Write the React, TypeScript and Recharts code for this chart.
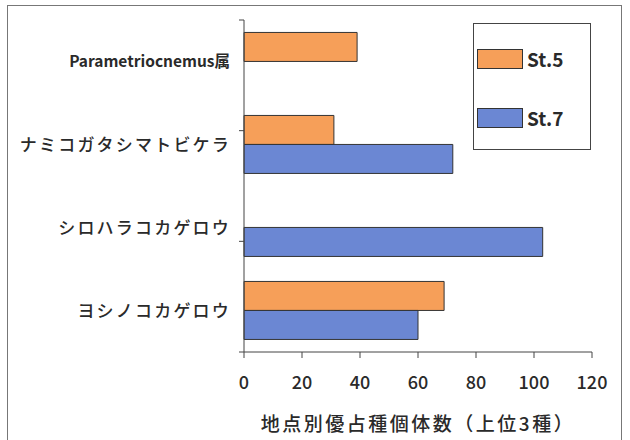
import React from 'react';
import { BarChart, Bar, XAxis, YAxis, Legend } from 'recharts';

// 種名（上から順）
const species = ['Parametriocnemus属', 'ナミコガタシマトビケラ', 'シロハラコカゲロウ', 'ヨシノコカゲロウ'];
// 地点別個体数
const st5 = [39, 31, null, 69];
const st7 = [null, 72, 103, 60];
const xTicks = [0, 20, 40, 60, 80, 100, 120];
const bandEdges = [0, 1, 2, 3, 4];

const seriesInfo = [
  { key: 'st5', name: 'St.5', color: '#F69F59' },
  { key: 'st7', name: 'St.7', color: '#6B87D3' },
];

const data = species.map((name, i) => ({ name, st5: st5[i], st7: st7[i] }));

const FONT = '"Noto Sans CJK JP", "Noto Sans", sans-serif';

const SpeciesTick = (props: any) => {
  const { x, y, payload } = props;
  const latin = /[A-Za-z]/.test(payload.value);
  return (
    <text
      x={x}
      y={y}
      dx={latin ? 7 : 8}
      dy={latin ? 5 : 6}
      textAnchor="end"
      fill="#2a2a2a"
      fontFamily={FONT}
      fontSize={latin ? 15.5 : 17}
      fontWeight={latin ? 700 : 500}
      letterSpacing={latin ? 0 : 2.2}
    >
      {payload.value}
    </text>
  );
};

const LegendBox = () => (
  <div
    style={{
      width: 118,
      height: 127,
      border: '1px solid #444',
      background: '#fff',
      boxSizing: 'border-box',
      position: 'relative',
      fontFamily: FONT,
    }}
  >
    {seriesInfo.map((s, i) => (
      <div
        key={s.key}
        style={{
          position: 'absolute',
          left: 3,
          top: 21 + i * 59,
          display: 'flex',
          alignItems: 'center',
        }}
      >
        <div style={{ width: 46, height: 20, background: s.color, border: '1px solid #333', boxSizing: 'border-box' }} />
        <span style={{ marginLeft: 4, fontSize: 19, fontWeight: 700, color: '#2a2a2a' }}>{s.name}</span>
      </div>
    ))}
  </div>
);

export default function App() {
  return (
    <div style={{ position: 'fixed', left: 0, top: 0, width: 630, height: 440, overflow: 'hidden', background: '#fff' }}>
      <div
        style={{
          position: 'absolute',
          left: 7,
          top: 5,
          width: 615,
          height: 460,
          border: '1px solid #777',
          boxSizing: 'border-box',
        }}
      />
      <BarChart
        width={630}
        height={440}
        data={data}
        layout="vertical"
        margin={{ top: 20, right: 38, bottom: 0, left: 0 }}
        barCategoryGap="15%"
        barGap={0}
        style={{ position: 'absolute', left: 0, top: 0 }}
      >
        <XAxis
          type="number"
          domain={[0, 120]}
          ticks={xTicks}
          height={88}
          stroke="#444"
          tickSize={6}
          tickMargin={18}
          tick={{ fill: '#2a2a2a', fontSize: 18, fontFamily: FONT, fontWeight: 500 }}
          label={{
            value: '地点別優占種個体数（上位3種）',
            position: 'insideBottom',
            offset: 9,
            fill: '#2a2a2a',
            fontSize: 19,
            fontFamily: FONT,
            fontWeight: 500,
            letterSpacing: 2.5,
          }}
        />
        {/* band-boundary ticks and the axis line, next to the plot */}
        <YAxis
          yAxisId={0}
          type="number"
          domain={[0, 4]}
          ticks={bandEdges}
          interval={0}
          width={1}
          stroke="#444"
          tickLine={{ stroke: '#444' }}
          tickSize={5}
          tickFormatter={() => ''}
        />
        <YAxis
          yAxisId={1}
          type="category"
          dataKey="name"
          width={243}
          axisLine={false}
          tickLine={false}
          tickMargin={14}
          tick={<SpeciesTick />}
        />
        <Legend
          layout="horizontal"
          verticalAlign="middle"
          align="center"
          content={<LegendBox />}
          wrapperStyle={{ position: 'absolute', left: 473, top: 23, width: 118, height: 127 }}
        />
        {seriesInfo.map((s) => (
          <Bar
            key={s.key}
            yAxisId={1}
            dataKey={s.key}
            name={s.name}
            fill={s.color}
            stroke="#333"
            strokeWidth={1}
            isAnimationActive={false}
          />
        ))}
      </BarChart>
    </div>
  );
}
